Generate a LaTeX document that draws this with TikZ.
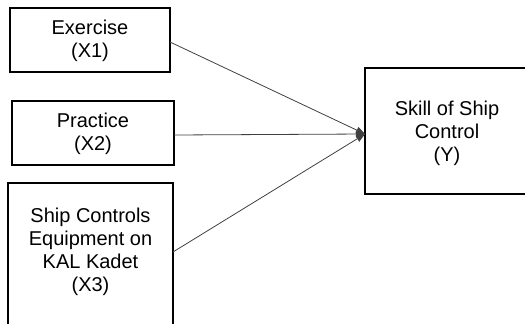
\documentclass[tikz,border=0pt]{standalone}
\usepackage{fontspec}
\setmainfont{Liberation Sans}
\usetikzlibrary{arrows.meta}
\begin{document}
\begin{tikzpicture}[x=1pt,y=-1pt,
  box/.style={draw=black,line width=1.4pt,fill=white,inner sep=0pt,outer sep=0pt},
  lbl/.style={align=center,font=\fontsize{20}{23}\selectfont,inner sep=0pt},
  conn/.style={draw=black!75,line width=0.8pt,-{Triangle[length=9pt,width=7pt]}}]
\useasboundingbox (0,0) rectangle (525,324);
\node[box,minimum width=160pt,minimum height=64pt] (b1) at (90,40) {};
\node[lbl] (x1) at (90,41) {Exercise\\(X1)};
\node[box,minimum width=162pt,minimum height=64pt] (b2) at (93,133) {};
\node[lbl] (x2) at (93,134) {Practice\\(X2)};
\node[box,minimum width=165pt,minimum height=157pt] (b3) at (90.5,261.5) {};
\node[lbl] (x3) at (90.5,252) {Ship Controls\\Equipment on\\KAL Kadet\\(X3)};
\node[box,minimum width=170pt,minimum height=126pt] (by) at (450,131) {};
\node[lbl] (y) at (447,133) {Skill of Ship\\Control\\(Y)};
\coordinate (t) at ([yshift=-3pt]by.west);
\draw[conn] ([yshift=-2pt]b1.east) -- (t);
\draw[conn] ([yshift=-2pt]b2.east) -- (t);
\draw[conn] (b3.east |- x3) -- (t);
\end{tikzpicture}
\end{document}
